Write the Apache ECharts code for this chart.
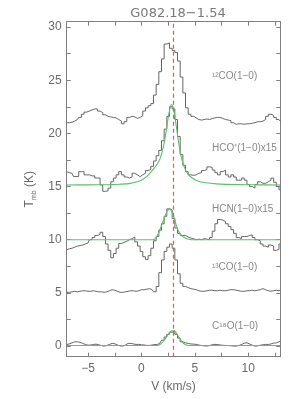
<!DOCTYPE html>
<html><head><meta charset="utf-8">
<script src="https://cdn.jsdelivr.net/npm/echarts@6/dist/echarts.min.js"></script>
<style>html,body{margin:0;padding:0;background:#fff}#c{width:300px;height:399px}</style>
</head><body><div id="c"></div>
<script>
const title = 'G082.18\u22121.54';
const vlsr = 2.95;
const velocity = [-7,-6.75,-6.5,-6.25,-6,-5.75,-5.5,-5.25,-5,-4.75,-4.5,-4.25,-4,-3.75,-3.5,-3.25,-3,-2.75,-2.5,-2.25,-2,-1.75,-1.5,-1.25,-1,-0.75,-0.5,-0.25,0,0.25,0.5,0.75,1,1.25,1.5,1.75,2,2.25,2.5,2.75,3,3.25,3.5,3.75,4,4.25,4.5,4.75,5,5.25,5.5,5.75,6,6.25,6.5,6.75,7,7.25,7.5,7.75,8,8.25,8.5,8.75,9,9.25,9.5,9.75,10,10.25,10.5,10.75,11,11.25,11.5,11.75,12,12.25,12.5,12.75,13];
const co12 = [21.0,21.0,21.05,21.15, 21.3,21.5,21.8,22.0, 22.1,22.2,22.3,22.3, 22.1,21.95,21.75,21.6, 21.55,21.5,21.45,21.3, 21.15,20.9,21.1,21.5, 21.6,21.55,21.4,21.5, 21.65,22.1,22.4,22.6, 22.8,23.6,24.6,25.8, 27.0,28.4,28.5,28.0, 27.8,27.6,26.8,25.3, 23.8,22.4,21.8,21.6, 21.45,21.3,21.25,21.3, 21.35,21.3,21.4,21.45, 21.5,21.5,21.4,21.3, 21.25,21.2,21.0,20.85, 20.9,20.9,20.85,20.9, 20.9,20.95,21.0,21.1, 21.1,21.15,21.3,21.6, 21.8,21.7,21.5,21.3, 21.15];
const hcop = [16.4,16.3,16.25,15.95, 15.95,16.4,16.4,16.1, 16.1,16.0,16.0,15.8, 15.8,15.15,14.55,14.6, 14.85,15.45,15.8,16.1, 16.4,16.1,15.9,15.8, 15.9,16.25,16.1,15.93, 16.1,16.25,16.5,16.6, 16.9,17.4,17.9,18.4, 19.3,20.4,21.6,22.5, 22.3,21.3,19.7,18.0, 17.0,16.4,16.1,16.05, 16.1,16.25,16.3,16.5, 16.6,16.85,16.8,16.55, 16.3,16.1,16.4,16.55, 16.1,15.9,16.1,15.9, 15.6,15.6,15.8,15.6, 15.2,15.0,14.85,15.2, 15.45,15.3,15.3,15.45, 15.6,15.8,15.4,15.0, 14.7];
const hcn = [9.05,9.15,9.2,9.3, 9.4,9.45,9.5,9.6, 9.7,10.0,10.2,10.4, 10.5,10.7,10.3,9.6, 9.0,8.3,8.7,9.2, 9.65,9.75,9.85,10.0, 10.1,10.25,9.8,9.4, 8.9,8.4,8.15,8.5, 9.2,9.9,10.3,10.9, 11.5,12.2,12.9,12.8, 12.0,11.1,10.6,10.4, 10.4,10.25,10.15,10.1, 10.0,10.05,10.0,10.1, 10.05,10.0,10.2,10.8, 11.5,11.9,11.85,11.7, 11.5,11.25,10.95,10.6, 10.2,10.1,10.3,10.3, 10.4,10.45,10.2,10.0, 9.9,9.6,9.4,9.3, 9.5,9.4,9.0,9.1, 9.6];
const co13 = [5.05,5.05,5.1,5.15, 5.1,5.15,5.2,5.2, 5.15,5.15,5.2,5.15, 5.1,5.1,5.05,5.1, 5.2,5.3,5.25,5.15, 5.05,5.05,5.1,5.15, 5.2,5.2,5.15,5.2, 5.3,5.3,5.35,5.4, 5.3,5.1,5.6,6.9, 8.1,8.9,9.3,9.6, 9.2,8.1,6.8,5.9, 5.6,5.5,5.4,5.35, 5.3,5.2,5.15,5.15, 5.2,5.25,5.25,5.2, 5.2,5.25,5.2,5.2, 5.25,5.3,5.3,5.25, 5.2,5.15,5.15,5.2, 5.2,5.25,5.2,5.25, 5.3,5.4,5.3,5.2, 5.15,5.2,5.25,5.2, 5.25];
const c18o = [0.15,0.2,0.3,0.4, 0.4,0.35,0.25,0.15, 0.08,0.1,0.15,0.18, 0.12,0.05,0.0,0.05, 0.15,0.25,0.22,0.1, 0.02,0.0,0.1,0.25, 0.25,0.2,0.15,0.16, 0.12,0.1,0.06,0.06, 0.1,0.15,0.15,0.3, 0.55,0.85,1.1,1.3, 1.45,1.1,0.75,0.4, 0.3,0.25,0.2,0.18, 0.16,0.1,0.05,0.02, 0.0,0.05,0.12,0.16, 0.14,0.1,0.07,0.06, 0.05,0.03,0.0,0.0, 0.05,0.15,0.28,0.3, 0.2,0.08,0.0,0.02, 0.08,0.12,0.16,0.15, 0.2,0.28,0.3,0.4, 0.48];

const fitHcopV = [-7,-5,-3,-2,-1,-0.5,0,0.5,1,1.25,1.5,1.75,2,2.2,2.4,2.6,2.8,3.0,3.2,3.4,3.6,3.8,4.0,4.3,4.7,5.2,6,7,9,11,13];
const fitHcop  = [15.15,15.16,15.18,15.22,15.3,15.42,15.6,15.95,16.5,16.8,17.15,17.65,18.5,19.5,20.8,22.0,22.7,22.3,21.1,19.7,18.4,17.5,16.85,16.25,15.85,15.55,15.35,15.25,15.18,15.16,15.15];
const fitHcnV = [-7,0,1.0,1.3,1.6,1.9,2.2,2.45,2.65,2.85,3.05,3.25,3.45,3.7,4.0,4.4,5,13];
const fitHcn  = [10,10,10,10.1,10.6,11.4,12.2,12.75,12.9,12.65,12.1,11.4,10.85,10.45,10.2,10.05,10,10];
const fitC18oV = [-7,1.5,1.8,2.1,2.4,2.7,2.95,3.2,3.5,3.8,4.1,4.5,13];
const fitC18o  = [0.05,0.05,0.2,0.5,0.95,1.35,1.47,1.3,0.85,0.4,0.15,0.06,0.05];

const lineNames = ['\u00b9\u00b2CO(1\u22120)','HCO\u207a(1\u22120)x15','HCN(1\u22120)x15','\u00b9\u00b3CO(1\u22120)','C\u00b9\u2078O(1\u22120)'];
const labelX = [6.6,6.6,6.6,6.6,6.6];
const labelY = [25.4,18.6,12.9,7.4,1.85];

const xTicks = [-5,-2.5,0,2.5,5,7.5,10,12.5];
const xLabels = [-5,0,5,10];
const yTicks = [0,2.5,5,7.5,10,12.5,15,17.5,20,22.5,25,27.5,30];
const yLabels = [0,5,10,15,20,25,30];

const grey = '#666666', green = '#5cbf6e', axisC = '#808080', txt = '#6a6a6a';
const font = 'Liberation Sans, Arial, sans-serif';
const pair = (xs, ys) => xs.map((v, i) => [v, ys[i]]);

const spec = (name, ys) => ({type:'line', name, data: pair(velocity, ys), step:'middle', showSymbol:false, symbol:'none', lineStyle:{color:grey, width:1}, silent:true, z:2, xAxisIndex:0, yAxisIndex:0});
const fit = (name, xs, ys) => ({type:'line', name, data: pair(xs, ys), smooth:0.3, showSymbol:false, symbol:'none', lineStyle:{color:green, width:1.1}, silent:true, z:3, xAxisIndex:0, yAxisIndex:0});

const axX = (pos, show) => ({type:'value', position:pos, min:-7, max:13,
  axisLine:{show:true, onZero:false, lineStyle:{color:axisC, width:1}},
  axisTick:{show:true, inside:true, length:4, customValues:xTicks, lineStyle:{color:axisC}},
  axisLabel:{show:show, customValues:xLabels, color:txt, fontSize:12, fontFamily:font, margin:6, formatter:v=>String(v).replace('-','\u2212')},
  splitLine:{show:false},
  name: show ? 'V (km/s)' : '', nameLocation:'middle', nameGap:24, nameTextStyle:{color:txt, fontSize:12, fontFamily:font}});
const axY = (pos, show) => ({type:'value', position:pos, min:-1, max:30.5,
  axisLine:{show:true, onZero:false, lineStyle:{color:axisC, width:1}},
  axisTick:{show:true, inside:true, length:4, customValues:yTicks, lineStyle:{color:axisC}},
  axisLabel:{show:show, customValues:yLabels, color:txt, fontSize:12, fontFamily:font, margin:5},
  splitLine:{show:false},
  name: show ? 'T{s|mb} (K)' : '', nameLocation:'middle', nameGap:22,
  nameTextStyle:{color:txt, fontSize:12, fontFamily:font, rich:{s:{fontSize:7, color:txt, fontFamily:font, verticalAlign:'bottom', padding:[0,0,-2,0]}}}});

const chart = echarts.init(document.getElementById('c'), null, {renderer:'canvas'});
const series = [
  spec('12CO', co12), spec('HCO+', hcop), spec('HCN', hcn), spec('13CO', co13), spec('C18O', c18o),
  fit('fitHCO+', fitHcopV, fitHcop), fit('fitHCN', fitHcnV, fitHcn), fit('fitC18O', fitC18oV, fitC18o),
  {type:'scatter', data: labelX.map((x,i)=>({value:[x, labelY[i]], label:{formatter:lineNames[i]}})), symbolSize:0, silent:true,
   label:{show:true, position:'right', distance:0, color:txt, fontSize:10, fontFamily:font}, z:4},
  {type:'line', data:[], silent:true, markLine:{silent:true, symbol:'none', label:{show:false},
   lineStyle:{color:'#e0603a', type:[4,3], width:1.2}, data:[{xAxis: vlsr}]}, z:5}
];
chart.setOption({
  animation:false,
  title:{text:title, left:173, top:2, textAlign:'center', textStyle:{color:'#7a7a7a', fontSize:13, fontWeight:'normal', fontFamily:'DejaVu Sans, sans-serif'}},
  grid:{left:66.7, right:19.7, top:21.7, bottom:42.3, containLabel:false},
  xAxis:[axX('bottom', true), axX('top', false)],
  yAxis:[axY('left', true), axY('right', false)],
  series
});
</script></body></html>
